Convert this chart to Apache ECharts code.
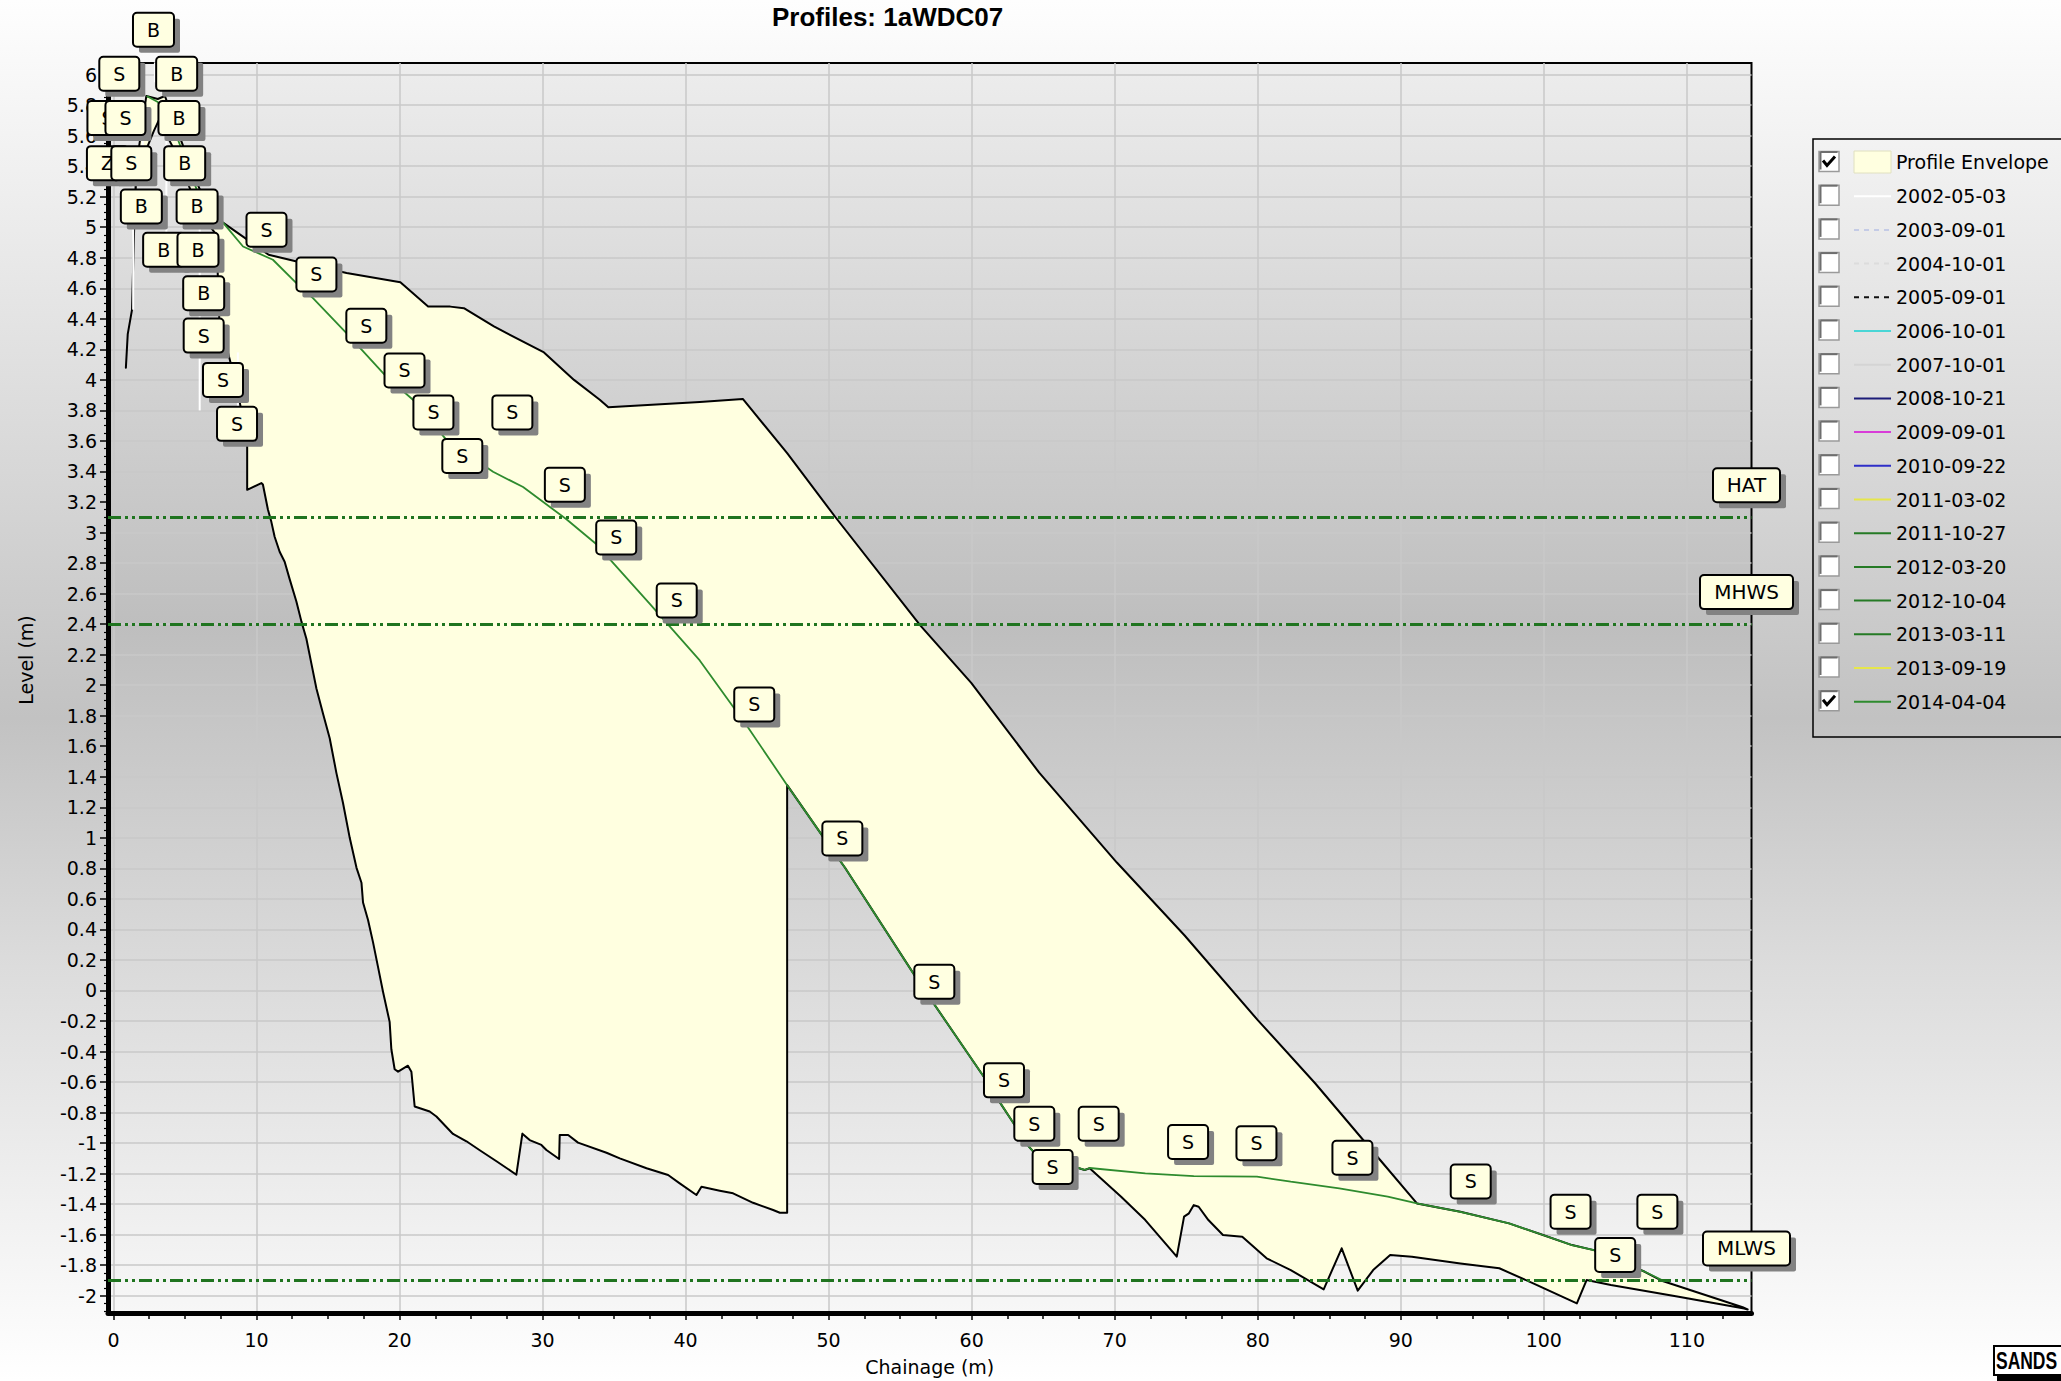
<!DOCTYPE html>
<html>
<head>
<meta charset="utf-8">
<script src="https://cdn.jsdelivr.net/npm/echarts@6/dist/echarts.min.js"></script>
<style>
html,body{margin:0;padding:0;width:2061px;height:1381px;overflow:hidden;}
body{background:linear-gradient(to bottom,#fefefe 0%,#d6d6d6 35%,#c2c2c2 52%,#dcdcdc 70%,#ffffff 100%);}
#chart{width:2061px;height:1381px;}
</style>
</head>
<body>
<div id="chart"></div>
<script>
// ---------------- data ----------------
const chartTitle = 'Profiles: 1aWDC07';
const xName = 'Chainage (m)';
const yName = 'Level (m)';
const X_RANGE = [-0.38, 114.52];
const Y_RANGE = [-2.113, 6.076];
const xTicks = [0, 10, 20, 30, 40, 50, 60, 70, 80, 90, 100, 110];
const yTicks = [-2, -1.8, -1.6, -1.4, -1.2, -1, -0.8, -0.6, -0.4, -0.2, 0, 0.2, 0.4, 0.6, 0.8, 1, 1.2, 1.4, 1.6, 1.8, 2,
  2.2, 2.4, 2.6, 2.8, 3, 3.2, 3.4, 3.6, 3.8, 4, 4.2, 4.4, 4.6, 4.8, 5, 5.2, 5.4, 5.6, 5.8, 6];

// upper and lower edges of the profile envelope [chainage, level]
const envUpper = [[0.87,4.08],[1.0,4.3],[1.3,4.46],[1.45,5.0],[1.6,5.4],[2.3,5.86],[3.1,5.84],[3.6,5.86],[4.6,5.6],
  [5.8,5.3],[6.9,5.06],[7.66,5.03],[10.85,4.82],[12.6,4.78],[16.3,4.70],[20.06,4.64],[22.0,4.48],[23.55,4.48],
  [24.5,4.47],[26.6,4.35],[30.1,4.18],[32.2,4.0],[34.0,3.87],[34.6,3.82],[41.0,3.855],[44.0,3.875],[47.1,3.52],
  [50.48,3.10],[56.42,2.39],[59.97,2.015],[64.72,1.427],[70.15,0.838],[74.89,0.36],[79.97,-0.191],[84.01,-0.608],
  [88.75,-1.132],[91.13,-1.395],[94.17,-1.45],[97.57,-1.526],[99.94,-1.602],[101.97,-1.668],[103.5,-1.701],
  [107.06,-1.843],[108.2,-1.9],[113.9,-2.075],[114.25,-2.09]];
const envLower = [[0.87,4.08],[1.0,4.3],[1.3,4.46],[1.45,5.0],[1.6,5.35],[2.82,5.63],[3.17,5.7],[4.3,5.5],[6.0,5.1],
  [7.2,4.95],[7.4,4.4],[8.5,4.0],[9.35,3.62],[9.35,3.28],[10.34,3.324],[10.45,3.315],[10.8,3.151],[11.04,3.07],
  [11.27,2.972],[11.62,2.874],[11.97,2.809],[12.32,2.695],[12.79,2.548],[13.14,2.418],[13.49,2.304],[13.84,2.141],
  [14.19,1.978],[14.65,1.815],[15.12,1.652],[15.59,1.424],[16.05,1.228],[16.52,1.0],[16.99,0.805],[17.34,0.706],
  [17.45,0.576],[17.8,0.462],[18.15,0.315],[18.5,0.153],[18.85,-0.01],[19.31,-0.206],[19.43,-0.385],[19.66,-0.516],
  [19.9,-0.532],[20.59,-0.493],[20.83,-0.532],[21.06,-0.76],[22.11,-0.793],[22.58,-0.826],[23.74,-0.94],
  [24.68,-0.988],[25.61,-1.047],[26.78,-1.119],[28.17,-1.207],[28.59,-0.938],[29.1,-0.98],[29.92,-1.012],
  [30.27,-1.045],[31.16,-1.104],[31.2,-0.947],[31.79,-0.947],[32.48,-0.997],[34.47,-1.063],[35.4,-1.1],
  [37.27,-1.165],[38.78,-1.209],[39.59,-1.264],[40.76,-1.34],[41.11,-1.286],[42.39,-1.312],[43.32,-1.329],
  [44.72,-1.391],[46.12,-1.438],[46.59,-1.456],[47.1,-1.456],[47.1,1.345],[49.64,1.003],[51.16,0.802],
  [56.24,0.066],[60.99,-0.585],[61.97,-0.733],[64.0,-1.023],[64.52,-1.078],[67.9,-1.176],[68.25,-1.165],
  [70.45,-1.351],[72.14,-1.504],[74.34,-1.744],[74.85,-1.482],[75.19,-1.46],[75.53,-1.406],[75.87,-1.417],
  [76.55,-1.504],[77.57,-1.602],[78.92,-1.613],[80.62,-1.755],[82.31,-1.832],[84.61,-1.958],[85.87,-1.689],
  [86.99,-1.967],[88.07,-1.832],[89.26,-1.733],[90.78,-1.744],[94.17,-1.788],[96.89,-1.82],[99.26,-1.919],
  [102.31,-2.05],[102.99,-1.897],[104.69,-1.93],[109.43,-2.007],[114.01,-2.083],[114.25,-2.09]];

// 2014-04-04 survey profile [chainage, level]
const profile20140404 = [[2.32,5.86],[3.1,5.82],[4.2,5.65],[5.3,5.38],[6.2,5.15],[6.9,5.06],[7.66,5.03],[9.06,4.874],
  [11.15,4.787],[13.02,4.612],[13.95,4.536],[16.29,4.307],[19.08,4.022],[20.94,3.87],[23.28,3.607],[26.54,3.398],
  [28.64,3.298],[31.67,3.087],[33.77,2.923],[37.5,2.532],[40.99,2.162],[44.38,1.721],[47.1,1.345],[49.64,1.003],
  [51.16,0.802],[56.24,0.066],[60.99,-0.585],[61.97,-0.733],[64.0,-1.023],[64.52,-1.078],[67.9,-1.176],
  [68.25,-1.163],[72.14,-1.198],[75.53,-1.216],[79.94,-1.22],[82.31,-1.253],[85.7,-1.296],[89.09,-1.351],
  [91.13,-1.395],[94.17,-1.45],[97.57,-1.526],[99.94,-1.602],[101.97,-1.668],[103.5,-1.701],[107.06,-1.843],
  [108.25,-1.897]];

// feature-code marks: chainage, level of the mark, code
const markX = [-0.42, 0.41, 0.84, -0.42, 1.25, 1.95, 2.80, 4.42, 4.58, 4.98, 5.85, 3.51, 5.91, 6.31, 6.31, 7.66, 8.64,
  10.70, 14.19, 17.68, 20.35, 22.37, 27.89, 24.39, 31.56, 35.15, 39.38, 44.80, 50.96, 57.39, 62.26, 64.38, 68.88,
  65.66, 75.13, 79.91, 86.62, 94.89, 101.87, 107.94, 104.99];
const markLevel = [5.715, 6.006, 5.715, 5.42, 5.42, 5.136, 6.294, 6.006, 5.715, 5.42, 5.136, 4.852, 4.852, 4.568, 4.29,
  4.0, 3.712, 4.984, 4.691, 4.355, 4.062, 3.787, 3.787, 3.502, 3.313, 2.968, 2.555, 1.874, 0.996, 0.057, -0.589,
  -0.873, -0.873, -1.157, -0.993, -1.001, -1.096, -1.251, -1.449, -1.449, -1.733];
const markCode = ['S', 'S', 'S', 'Z', 'S', 'B', 'B', 'B', 'B', 'B', 'B', 'B', 'B', 'B', 'S', 'S', 'S',
  'S', 'S', 'S', 'S', 'S', 'S', 'S', 'S', 'S', 'S', 'S', 'S', 'S', 'S', 'S', 'S',
  'S', 'S', 'S', 'S', 'S', 'S', 'S', 'S'];

// white leader lines of the displaced marks: chainage, upper level, lower level
const leaderX = [2.9, 2.05, 3.70, 1.38, 6.03, 8.70];
const leaderTop = [6.08, 5.62, 5.57, 5.03, 5.00, 4.18];
const leaderBottom = [5.95, 5.27, 4.96, 4.46, 3.80, 3.80];

// tidal levels
const tideNames = ['HAT', 'MHWS', 'MLWS'];
const tideLevels = [3.1, 2.4, -1.9];

// legend entries
const envelopeName = 'Profile Envelope';
const surveyNames = ['2002-05-03', '2003-09-01', '2004-10-01', '2005-09-01', '2006-10-01', '2007-10-01', '2008-10-21',
  '2009-09-01', '2010-09-22', '2011-03-02', '2011-10-27', '2012-03-20', '2012-10-04', '2013-03-11', '2013-09-19',
  '2014-04-04'];
const surveyColors = ['#ffffff', '#c4cbe6', '#dcdcdc', '#111111', '#4ad6d6', '#d4d4d4', '#1c1c78', '#d83cd8',
  '#2e2ec8', '#e6e64a', '#257a25', '#257a25', '#257a25', '#257a25', '#e6e64a', '#2e8b2e'];
const surveyDashed = [false, true, true, true, false, false, false, false, false, false, false, false, false, false,
  false, false];
const legendChecked = [true, false, false, false, false, false, false, false, false, false, false, false, false, false,
  false, false, true];

// ---------------- helpers ----------------
const FONT = 'DejaVu Sans';
const measureCtx = document.createElement('canvas').getContext('2d');
function textWidth(t, size) { measureCtx.font = size + 'px "' + FONT + '"'; return measureCtx.measureText(t).width; }
function markBox(cx, cy, text, size) {
  const w = Math.max(39, Math.round(textWidth(text, size) + 28));
  const h = 34;
  return {
    type: 'group',
    children: [
      { type: 'rect', shape: { x: cx - w / 2 + 6, y: cy - h / 2 + 6, width: w, height: h, r: 2 }, style: { fill: '#828282' } },
      { type: 'rect', shape: { x: cx - w / 2, y: cy - h / 2, width: w, height: h, r: 4 }, style: { fill: '#ffffe1', stroke: '#000', lineWidth: 2 } },
      { type: 'text', x: cx, y: cy, style: { text: text, fontFamily: FONT, fontSize: size, fill: '#000', align: 'center', verticalAlign: 'middle' } }
    ]
  };
}
const xMinor = [];
xTicks.forEach(t => { for (let k = 1; k < 4; k++) if (t + k * 2.5 < X_RANGE[1]) xMinor.push(t + k * 2.5); });
const yMinor = [];
yTicks.forEach(t => { for (let k = 1; k < 4; k++) { const v = Math.round((t + k * 0.05) * 1000) / 1000; if (v < Y_RANGE[1]) yMinor.push(v); } });
yMinor.push(-2.05, -2.1);

const envPolygon = envUpper.concat(envLower.slice().reverse());

// ---------------- chart ----------------
const chart = echarts.init(document.getElementById('chart'), null, { renderer: 'svg' });

const gridLeft = 108, gridTop = 63, gridW = 1643.5, gridH = 1250;
const legendTop = 150.5, legendPitch = 33.7;

const surveySeries = surveyNames.map((n, i) => ({
  name: n,
  type: 'line',
  symbol: 'none',
  showSymbol: false,
  data: n === '2014-04-04' ? profile20140404 : [],
  lineStyle: { color: surveyColors[i], width: n === '2014-04-04' ? 1.8 : 2, type: surveyDashed[i] ? [5, 5] : 'solid' },
  itemStyle: { color: surveyColors[i] },
  z: 4,
  silent: true,
  animation: false
}));

const graphics = [];
// legend frame
graphics.push({ type: 'rect', shape: { x: 1813, y: 139, width: 270, height: 598 }, style: { fill: 'none', stroke: '#000', lineWidth: 1.5 }, z: 100 });
legendChecked.forEach((c, i) => {
  const cy = legendTop + 11 + i * legendPitch;
  graphics.push({ type: 'rect', shape: { x: 1819, y: cy - 10, width: 20, height: 20 }, style: { fill: '#ffffff', stroke: '#9a9a9a', lineWidth: 1.5 }, z: 100 });
  graphics.push({ type: 'polyline', shape: { points: [[1820.5, cy - 9.5], [1837.5, cy - 9.5]] }, style: { stroke: '#6e6e6e', lineWidth: 2 }, z: 101 });
  graphics.push({ type: 'polyline', shape: { points: [[1820.5, cy + 8], [1820.5, cy - 9.5]] }, style: { stroke: '#6e6e6e', lineWidth: 2 }, z: 101 });
  if (c) graphics.push({ type: 'polyline', shape: { points: [[1823, cy - 1], [1827, cy + 4], [1835, cy - 5]] }, style: { stroke: '#000', lineWidth: 3, fill: 'none' }, z: 102 });
});
// SANDS logo
graphics.push({ type: 'rect', shape: { x: 1997, y: 1351, width: 80, height: 30 }, style: { fill: '#000' }, z: 100 });
graphics.push({ type: 'rect', shape: { x: 1994, y: 1346, width: 80, height: 29 }, style: { fill: '#fff', stroke: '#000', lineWidth: 2 }, z: 101 });
graphics.push({ type: 'text', x: 1996, y: 1361, scaleX: 0.76, style: { text: 'SANDS', font: 'bold 23px "Liberation Sans", sans-serif', fill: '#000', align: 'left', verticalAlign: 'middle' }, z: 102 });

const option = {
  animation: false,
  backgroundColor: 'transparent',
  title: {
    text: chartTitle, left: 772, top: 4, padding: 0,
    textStyle: { fontFamily: 'Liberation Sans', fontWeight: 'bold', fontSize: 26, color: '#000' }
  },
  grid: {
    left: gridLeft, top: gridTop, width: gridW, height: gridH, show: true, borderColor: '#000', borderWidth: 2,
    backgroundColor: new echarts.graphic.LinearGradient(0, 0, 0, 1, [
      { offset: 0, color: '#ededed' }, { offset: 0.45, color: '#bebebe' }, { offset: 1, color: '#f7f7f7' }
    ])
  },
  legend: {
    orient: 'vertical', left: 1853, top: legendTop, padding: 0,
    itemWidth: 37, itemHeight: 22, itemGap: legendPitch - 22,
    selectedMode: false,
    textStyle: { fontFamily: FONT, fontSize: 19, color: '#000', lineHeight: 22 },
    data: [{ name: envelopeName, icon: 'rect', itemStyle: { color: '#ffffe0', borderColor: '#e0e0c0', borderWidth: 1 } }]
      .concat(surveyNames.map((n, i) => ({
        name: n,
        itemStyle: { color: 'rgba(0,0,0,0)', borderWidth: 0, opacity: 0 },
        lineStyle: { color: surveyColors[i], width: 2, type: surveyDashed[i] ? [5, 5] : 'solid', opacity: 1 }
      })))
  },
  xAxis: [{
    type: 'value', min: X_RANGE[0], max: X_RANGE[1], position: 'bottom',
    name: xName, nameLocation: 'middle', nameGap: 44,
    nameTextStyle: { fontFamily: FONT, fontSize: 19, color: '#000' },
    axisLine: { show: true, onZero: false, lineStyle: { color: '#000', width: 5 } },
    axisTick: { show: true, customValues: xTicks, length: 7, lineStyle: { color: '#000', width: 1.5 } },
    axisLabel: { customValues: xTicks, margin: 17, fontFamily: FONT, fontSize: 19, color: '#000', formatter: v => String(v) },
    splitLine: { show: true, lineStyle: { color: '#c9c9c9', width: 1.5 } }
  }, {
    type: 'value', min: X_RANGE[0], max: X_RANGE[1], position: 'bottom', gridIndex: 0,
    axisLine: { show: false, onZero: false }, axisLabel: { show: false }, splitLine: { show: false },
    axisTick: { show: true, customValues: xMinor, length: 6, lineStyle: { color: '#000', width: 1.5 } }
  }],
  yAxis: [{
    type: 'value', min: Y_RANGE[0], max: Y_RANGE[1], position: 'left',
    name: yName, nameLocation: 'middle', nameGap: 73, nameRotate: 90,
    nameTextStyle: { fontFamily: FONT, fontSize: 19, color: '#000', padding: [0, 0, 0, 56] },
    axisLine: { show: true, onZero: false, lineStyle: { color: '#000', width: 5 } },
    axisTick: { show: true, customValues: yTicks, length: 8, lineStyle: { color: '#000', width: 1.5 } },
    axisLabel: { customValues: yTicks, margin: 11, fontFamily: FONT, fontSize: 19, color: '#000', formatter: v => String(v) },
    splitLine: { show: true, lineStyle: { color: '#c9c9c9', width: 1.5 } }
  }, {
    type: 'value', min: Y_RANGE[0], max: Y_RANGE[1], position: 'left', gridIndex: 0,
    axisLine: { show: false, onZero: false }, axisLabel: { show: false }, splitLine: { show: false },
    axisTick: { show: true, customValues: yMinor, length: 4, lineStyle: { color: '#000', width: 1.2 } }
  }],
  graphic: graphics,
  series: [{
    name: envelopeName,
    type: 'custom',
    data: envPolygon,
    encode: { x: 0, y: 1 },
    itemStyle: { color: '#ffffe0' },
    z: 2,
    silent: true,
    renderItem: function (params, api) {
      if (params.dataIndex !== 0) return null;
      const pts = envPolygon.map(p => api.coord(p));
      return { type: 'polygon', shape: { points: pts }, style: { fill: '#ffffe0', stroke: '#000', lineWidth: 2, lineJoin: 'round' } };
    }
  }, {
    name: 'Tidal levels',
    type: 'line',
    data: [],
    z: 3,
    silent: true,
    markLine: {
      symbol: 'none', silent: true, animation: false,
      label: { show: false },
      lineStyle: { color: '#1f741f', width: 3, type: [13, 4, 3, 4, 3, 4] },
      data: tideLevels.map(l => ({ yAxis: l }))
    }
  }].concat(surveySeries).concat([{
    name: 'Mark leaders',
    type: 'custom',
    data: leaderX.map((x, i) => [x, leaderTop[i], leaderBottom[i]]),
    encode: { x: 0, y: [1, 2] },
    z: 8,
    silent: true,
    clip: false,
    renderItem: function (params, api) {
      const a = api.coord([api.value(0), api.value(1)]);
      const b = api.coord([api.value(0), api.value(2)]);
      return { type: 'line', shape: { x1: a[0], y1: a[1], x2: b[0], y2: b[1] }, style: { stroke: '#ffffff', lineWidth: 2 } };
    }
  }, {
    name: 'Tide labels',
    type: 'custom',
    data: tideLevels.map(l => [X_RANGE[1], l]),
    encode: { x: 0, y: 1 },
    z: 9,
    silent: true,
    clip: false,
    renderItem: function (params, api) {
      const p = api.coord([api.value(0), api.value(1)]);
      return markBox(p[0] - 5, p[1] - 32, tideNames[params.dataIndex], 20);
    }
  }, {
    name: 'Feature codes',
    type: 'custom',
    data: markX.map((x, i) => [x, markLevel[i]]),
    encode: { x: 0, y: 1 },
    z: 10,
    silent: true,
    clip: false,
    renderItem: function (params, api) {
      const p = api.coord([api.value(0), api.value(1)]);
      return markBox(p[0], p[1], markCode[params.dataIndex], 19);
    }
  }])
};
chart.setOption(option);
</script>
</body>
</html>
